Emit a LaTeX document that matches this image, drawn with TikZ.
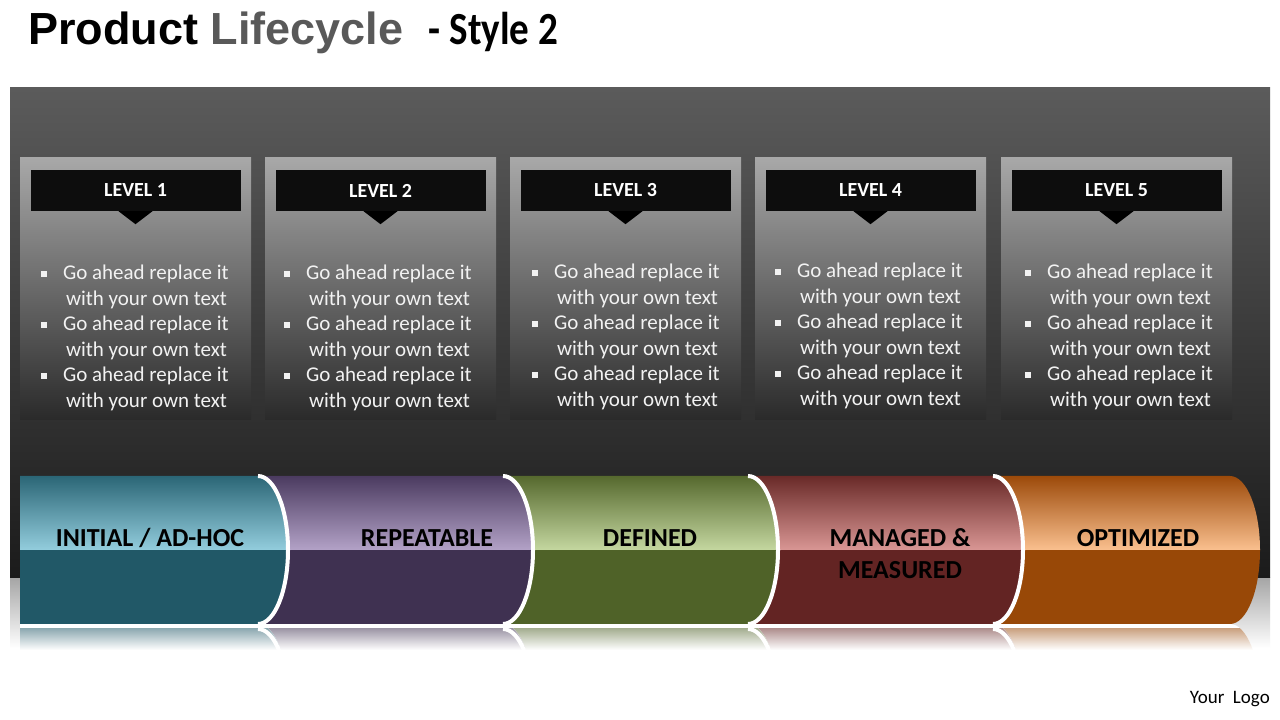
\documentclass[tikz,border=0pt]{standalone}
\usepackage{fontspec}
\setmainfont{Carlito}
\newfontfamily\titlefont{Liberation Sans}
\newfontfamily\stylefont[FakeStretch=0.85]{Carlito}
\usepackage{xcolor}
\usepackage{tikz}
\usetikzlibrary{
  positioning,          % relative node placement
  calc,                 % coordinate math
}

\definecolor{titlegray}{HTML}{595959}
\definecolor{bgtop}{HTML}{5B5B5B}
\definecolor{bgmid}{HTML}{353535}
\definecolor{bgbot}{HTML}{1B1B1B}
\definecolor{paneltop}{HTML}{A8A8A8}
\definecolor{panelmid}{HTML}{888888}
\definecolor{panelbot}{HTML}{2A2A2A}
\definecolor{hdrblack}{HTML}{0D0D0D}
\definecolor{tealtop}{HTML}{2B6676}
\definecolor{teallight}{HTML}{93CDDD}
\definecolor{tealdark}{HTML}{215867}
\definecolor{purptop}{HTML}{4B3B60}
\definecolor{purplight}{HTML}{B3A2C7}
\definecolor{purpdark}{HTML}{3F3151}
\definecolor{olivetop}{HTML}{56692E}
\definecolor{olivelight}{HTML}{C4D7A0}
\definecolor{olivedark}{HTML}{4F6228}
\definecolor{redtop}{HTML}{692A28}
\definecolor{redlight}{HTML}{D99694}
\definecolor{reddark}{HTML}{632423}
\definecolor{orgtop}{HTML}{9C4A0A}
\definecolor{orglight}{HTML}{FAC08F}
\definecolor{orgdark}{HTML}{984807}

% bullet square and the three bullet items of a level
\newcommand{\blt}{\makebox[22pt][l]{\raisebox{2.5pt}{\rule{6pt}{6pt}}}}
\newcommand{\bullettext}{%
  \blt Go ahead replace it\\\hspace*{25pt}with your own text\\
  \blt Go ahead replace it\\\hspace*{25pt}with your own text\\
  \blt Go ahead replace it\\\hspace*{25pt}with your own text}

% one cylinder segment: left, right, top colour, light colour, dark colour, edge
\newcommand{\cylseg}[6]{%
  % reflection
  \begin{scope}
    \clip (#1,62) rectangle (#2+40,96);
    \clip (#1,96) -- (#2,96) arc[start angle=90, end angle=-90, x radius=30pt, y radius=74pt] -- (#1,-52) -- cycle;
    \fill[white] (#1,62) rectangle (#2+40,96);
    \shade[top color=#5!50!white, bottom color=white] (#1,70) rectangle (#2+40,91);
    \draw[#6, line width=4pt] (#2,91) arc[start angle=90, end angle=0, x radius=30pt, y radius=74pt];
  \end{scope}
  % body
  \begin{scope}
    \clip (#1,244) -- (#2,244) arc[start angle=90, end angle=-90, x radius=30pt, y radius=74pt] -- (#1,96) -- cycle;
    \shade[top color=#3, bottom color=#4] (#1,170) rectangle (#2+40,244);
    \fill[#5] (#1,96) rectangle (#2+40,170);
  \end{scope}
  \draw[#6, line width=4pt] (#2,244) arc[start angle=90, end angle=-90, x radius=30pt, y radius=74pt];
}

\begin{document}
\begin{tikzpicture}[
  x=1pt, y=1pt,
  panel/.style={minimum width=231pt, minimum height=262pt, inner sep=0pt,
    top color=paneltop, middle color=panelmid, bottom color=panelbot},
  header/.style={minimum width=210pt, minimum height=41pt, inner sep=0pt,
    fill=hdrblack, text=white, font=\fontsize{20}{24}\selectfont\bfseries},
  pointer/.style={fill=black},
  bullets/.style={align=left, inner sep=0pt, text=white!95!black,
    font=\fontsize{21}{25.6}\selectfont},
  seglabel/.style={align=center, inner sep=0pt, text=black,
    font=\fontsize{26}{32}\selectfont\bfseries},
]
  \useasboundingbox (0,0) rectangle (1280,720);
  \fill[white] (0,0) rectangle (1280,720);

  % Title
  \node[anchor=base west, inner sep=0pt, font=\titlefont\fontsize{45}{50}\selectfont\bfseries]
    (title) at (28,675) {Product \textcolor{titlegray}{Lifecycle}};
  \node[right=25pt of title.base east, anchor=base west, inner sep=0pt,
    font=\stylefont\fontsize{46}{50}\selectfont\bfseries] (subtitle) {- Style 2};

  % Dark background and its reflection
  \shade[top color=black!35, bottom color=white] (10,72) rectangle (1270,142);
  \shade[top color=bgtop, middle color=bgmid, bottom color=bgbot] (10,142) rectangle (1270,632);

  % Level panels
  \node[panel] (p1) at (135.5,431) {};
  \node[panel] (p2) at (380.5,431) {};
  \node[panel] (p3) at (625.5,431) {};
  \node[panel] (p4) at (870.5,431) {};
  \node[panel] (p5) at (1116.5,431) {};

  % Level headers
  \node[header, below=12pt of p1.north] (h1) {LEVEL 1};
  \node[header, below=12pt of p2.north] (h2) {LEVEL 2};
  \node[header, below=12pt of p3.north] (h3) {LEVEL 3};
  \node[header, below=12pt of p4.north] (h4) {LEVEL 4};
  \node[header, below=12pt of p5.north] (h5) {LEVEL 5};
  \fill[pointer] ([xshift=-17pt]h1.south) -- ([xshift=17pt]h1.south) -- ([yshift=-13pt]h1.south) -- cycle;
  \fill[pointer] ([xshift=-17pt]h2.south) -- ([xshift=17pt]h2.south) -- ([yshift=-13pt]h2.south) -- cycle;
  \fill[pointer] ([xshift=-17pt]h3.south) -- ([xshift=17pt]h3.south) -- ([yshift=-13pt]h3.south) -- cycle;
  \fill[pointer] ([xshift=-17pt]h4.south) -- ([xshift=17pt]h4.south) -- ([yshift=-13pt]h4.south) -- cycle;
  \fill[pointer] ([xshift=-17pt]h5.south) -- ([xshift=17pt]h5.south) -- ([yshift=-13pt]h5.south) -- cycle;

  % Bullet texts
  \node[bullets, anchor=north west] (t1) at ([xshift=21pt, yshift=-107pt]p1.north west) {\bullettext};
  \node[bullets, anchor=north west] (t2) at ([xshift=19pt, yshift=-107pt]p2.north west) {\bullettext};
  \node[bullets, anchor=north west] (t3) at ([xshift=22pt, yshift=-106pt]p3.north west) {\bullettext};
  \node[bullets, anchor=north west] (t4) at ([xshift=20pt, yshift=-105pt]p4.north west) {\bullettext};
  \node[bullets, anchor=north west] (t5) at ([xshift=24pt, yshift=-106pt]p5.north west) {\bullettext};

  % Cylinder, drawn right to left so each end sits on the next one
  \cylseg{990}{1230}{orgtop}{orglight}{orgdark}{draw=none}
  \cylseg{745}{993}{redtop}{redlight}{reddark}{white}
  \cylseg{500}{748}{olivetop}{olivelight}{olivedark}{white}
  \cylseg{255}{503}{purptop}{purplight}{purpdark}{white}
  \cylseg{20}{258}{tealtop}{teallight}{tealdark}{white}

  % Stage labels
  \node[seglabel] (s1) at (150,182) {INITIAL / AD-HOC};
  \node[seglabel] (s2) at (427,182) {REPEATABLE};
  \node[seglabel] (s3) at (650,182) {DEFINED};
  \node[seglabel] (s4) at (900,166) {MANAGED \&\\MEASURED};
  \node[seglabel] (s5) at (1138,182) {OPTIMIZED};

  % Logo
  \node[anchor=base east, inner sep=0pt, font=\fontsize{19}{22}\selectfont]
    (logo) at (1270,16) {Your\ \ Logo};
\end{tikzpicture}
\end{document}
